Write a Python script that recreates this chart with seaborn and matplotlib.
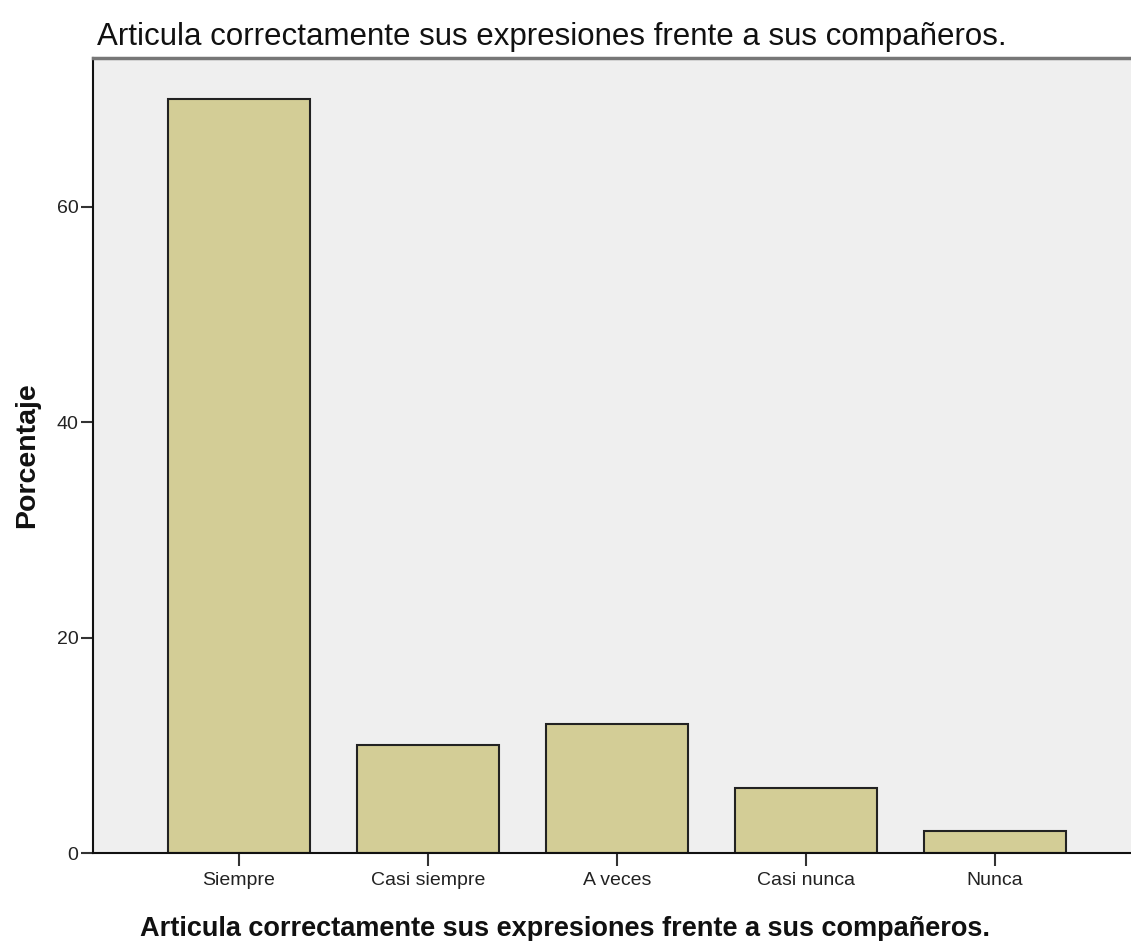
import matplotlib
matplotlib.use("Agg")
import matplotlib.pyplot as plt
import seaborn as sns
import pandas as pd

categories = ["Siempre", "Casi siempre", "A veces", "Casi nunca", "Nunca"]
values = [70.0, 10.0, 12.0, 6.0, 2.0]
yticks = [0, 20, 40, 60]
title = "Articula correctamente sus expresiones frente a sus compañeros."

sns.set_style("white")
plt.rcParams['font.family'] = ['Liberation Sans', 'DejaVu Sans']

df = pd.DataFrame({"cat": categories, "val": values})

fig = plt.figure(figsize=(11.31, 9.41), dpi=100)
ax_left = 93 / 1131
ax_w = 1.0 - ax_left + 0.01
ax_h = (853 - 58) / 941
ax = fig.add_axes([ax_left, (941 - 853) / 941, ax_w, ax_h])
ax.set_facecolor("#EFEFEF")

sns.barplot(data=df, x="cat", y="val", order=categories, color="#D3CD96",
            saturation=1, width=0.75, edgecolor="#222222", linewidth=1.5, ax=ax)

ax.set_xlim(-0.772, 4.78)
ax.set_ylim(0, 73.8)
ax.set_yticks(yticks)
ax.set_yticklabels([str(t) for t in yticks])

for side in ["left", "bottom"]:
    ax.spines[side].set_visible(True)
    ax.spines[side].set_color("#111111")
    ax.spines[side].set_linewidth(1.5)
ax.spines["top"].set_visible(True)
ax.spines["top"].set_color("#777777")
ax.spines["top"].set_linewidth(2.5)
ax.spines["right"].set_visible(False)

ax.tick_params(axis="both", which="major", direction="out", length=9, width=1.5,
               color="#333333", labelsize=14, labelcolor="#222222",
               left=True, bottom=True)
ax.tick_params(axis="y", pad=1.5)
ax.tick_params(axis="x", pad=5)

ax.set_xlabel(title, fontsize=19.5, fontweight="bold", color="#111111")
ax_w_px = ax_w * 1131
ax_h_px = ax_h * 941
ax.xaxis.set_label_coords((565.5 - 93) / ax_w_px, (853 - 916) / ax_h_px)
ax.set_ylabel("Porcentaje", fontsize=20.5, fontweight="bold", labelpad=12, color="#111111")

fig.text(97/1131, 1 - 37/941, title, fontsize=22.5,
         ha="left", va="center", color="#111111")

fig.savefig("out.png", dpi=100)
